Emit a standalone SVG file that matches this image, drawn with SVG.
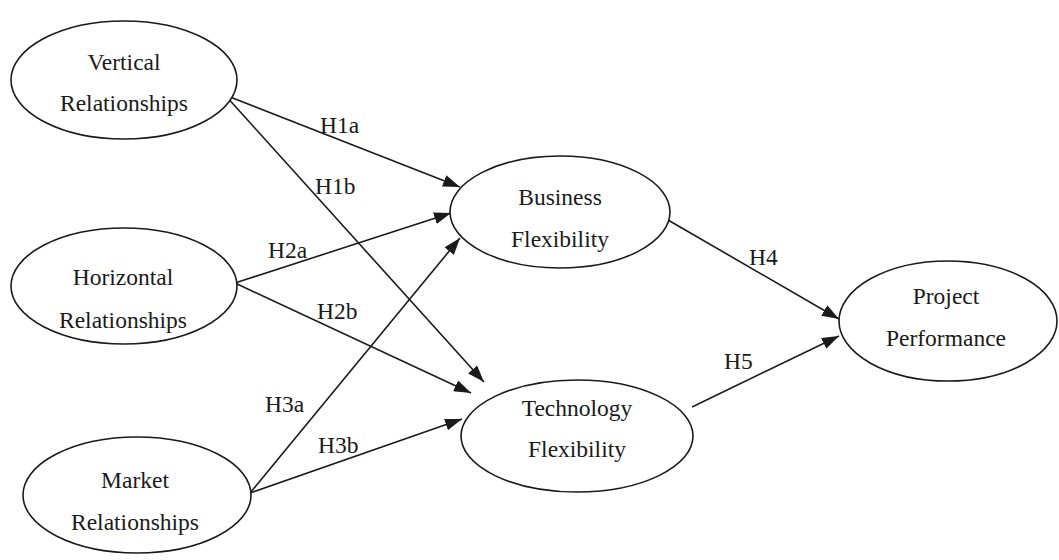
<svg xmlns="http://www.w3.org/2000/svg" width="1059" height="560" viewBox="0 0 1059 560">
<style>
.node ellipse{fill:#fff;stroke:#1a1a1a;stroke-width:1.6}
.node text,.lbl{font-family:"Liberation Serif","Times New Roman",serif;font-size:23.5px;fill:#1a1a1a;text-anchor:middle}
.lbl{text-anchor:start}
.edge{stroke:#1a1a1a;stroke-width:1.6;fill:none;marker-end:url(#ah)}
</style>
<defs>
<marker id="ah" markerUnits="userSpaceOnUse" markerWidth="17" markerHeight="12" viewBox="0 0 17 12" refX="17" refY="6" orient="auto">
<path d="M0,0 L17,6 L0,12 z" fill="#1a1a1a"/>
</marker>
</defs>
<rect width="1059" height="560" fill="#fff"/>
<g id="connectors">
<line class="edge" x1="225" y1="95" x2="460" y2="187"/>
<line class="edge" x1="225" y1="95" x2="484" y2="382"/>
<line class="edge" x1="235" y1="283" x2="451" y2="213"/>
<line class="edge" x1="235" y1="283" x2="471" y2="393"/>
<line class="edge" x1="250" y1="493" x2="460" y2="238"/>
<line class="edge" x1="250" y1="493" x2="462" y2="419"/>
<line class="edge" x1="668" y1="220" x2="839" y2="319"/>
<line class="edge" x1="692" y1="407" x2="839" y2="336"/>
<text class="lbl" x="320" y="133">H1a</text>
<text class="lbl" x="315" y="194">H1b</text>
<text class="lbl" x="268" y="258">H2a</text>
<text class="lbl" x="317" y="319">H2b</text>
<text class="lbl" x="265" y="412">H3a</text>
<text class="lbl" x="318" y="453">H3b</text>
<text class="lbl" x="749" y="265">H4</text>
<text class="lbl" x="724" y="369">H5</text>
</g>
<g id="vertical" class="node">
<ellipse cx="124" cy="80" rx="113" ry="59"/>
<text x="124" y="70">Vertical</text>
<text x="124" y="111">Relationships</text>
</g>
<g id="horizontal" class="node">
<ellipse cx="124" cy="286" rx="113" ry="58"/>
<text x="123" y="285">Horizontal</text>
<text x="123" y="328">Relationships</text>
</g>
<g id="market" class="node">
<ellipse cx="137" cy="495" rx="114" ry="58"/>
<text x="135" y="488">Market</text>
<text x="135" y="530">Relationships</text>
</g>
<g id="business" class="node">
<ellipse cx="560" cy="212" rx="110" ry="56"/>
<text x="560" y="205">Business</text>
<text x="560" y="247">Flexibility</text>
</g>
<g id="technology" class="node">
<ellipse cx="577" cy="436" rx="116" ry="56"/>
<text x="577" y="416">Technology</text>
<text x="577" y="457">Flexibility</text>
</g>
<g id="performance" class="node">
<ellipse cx="948" cy="321" rx="109" ry="60"/>
<text x="946" y="304">Project</text>
<text x="946" y="346">Performance</text>
</g>
</svg>
